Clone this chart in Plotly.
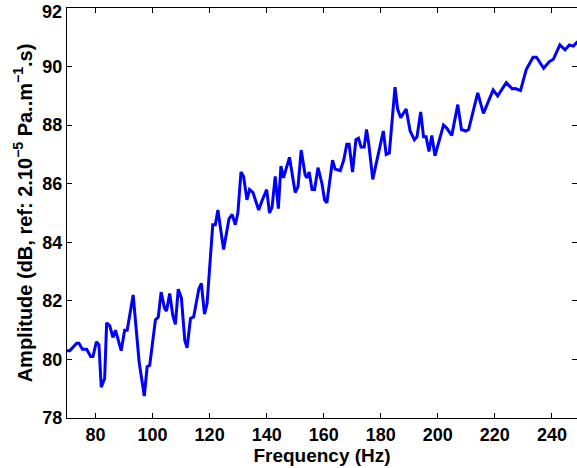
import plotly.graph_objects as go

freq = [70.0, 71.0, 73.4, 74.2, 75.4, 76.9, 78.3, 79.1, 80.3, 81.2, 82.0, 83.2, 83.9, 85.0,
        86.1, 87.0, 89.0, 90.2, 91.1, 93.2, 95.3, 97.1, 98.1, 99.0, 101.0, 102.0, 103.0,
        104.2, 104.9, 106.0, 107.1, 108.0, 109.0, 110.1, 111.3, 112.1, 113.3, 114.4, 116.2,
        117.1, 118.2, 119.1, 121.1, 122.0, 122.9, 124.9, 126.8, 127.9, 129.0, 129.9, 131.0,
        131.9, 133.1, 134.0, 135.2, 137.2, 138.3, 140.0, 141.0, 141.9, 143.0, 144.1, 145.0,
        145.9, 148.0, 150.0, 151.0, 152.1, 153.5, 154.1, 154.9, 155.9, 156.8, 158.0, 159.4,
        160.3, 161.1, 163.1, 164.0, 165.8, 167.0, 168.1, 168.9, 170.1, 171.3, 172.2, 173.1,
        174.2, 175.0, 175.8, 177.2, 179.2, 180.9, 181.9, 183.0, 185.0, 185.9, 187.0, 188.9,
        190.3, 191.8, 192.7, 194.0, 195.0, 195.9, 196.9, 197.9, 199.0, 202.0, 203.1, 204.9,
        207.0, 208.3, 209.8, 210.8, 214.0, 216.0, 219.4, 221.0, 224.0, 226.1, 227.2, 229.0,
        231.0, 233.4, 234.6, 237.1, 239.1, 240.5, 242.8, 244.6, 246.1, 247.5, 248.8, 250.0]

amplitude = [80.3, 80.3, 80.55, 80.55, 80.35, 80.35, 80.1, 80.1, 80.6, 80.5, 79.05, 79.35,
             81.25, 81.15, 80.75, 81.0, 80.3, 81.0, 81.0, 82.2, 79.9, 78.75, 79.75, 79.8,
             81.35, 81.45, 82.3, 81.75, 81.65, 82.25, 81.5, 81.2, 82.4, 82.1, 80.65, 80.4,
             81.4, 81.45, 82.4, 82.6, 81.55, 81.9, 84.6, 84.6, 85.1, 83.75, 84.8, 84.95,
             84.6, 85.0, 86.4, 86.25, 85.45, 85.8, 85.7, 85.1, 85.4, 85.8, 85.0, 85.2, 86.25,
             85.15, 86.6, 86.2, 86.9, 85.7, 85.9, 87.15, 86.3, 86.2, 86.4, 85.8, 85.8, 86.55,
             86.0, 85.45, 85.35, 86.8, 86.5, 86.45, 86.8, 87.35, 87.35, 86.4, 87.5, 87.55,
             87.25, 87.25, 87.85, 87.35, 86.15, 87.0, 87.8, 87.0, 87.05, 89.3, 88.55, 88.25,
             88.55, 87.8, 87.5, 87.6, 88.45, 87.6, 87.6, 87.1, 87.65, 86.95, 88.0, 87.9, 87.65,
             88.7, 87.85, 87.8, 87.85, 89.1, 88.4, 89.2, 89.0, 89.45, 89.24, 89.25, 89.18,
             89.9, 90.32, 90.32, 89.94, 90.17, 90.25, 90.74, 90.57, 90.74, 90.7, 90.83, 90.9]

x_ticks = [80, 100, 120, 140, 160, 180, 200, 220, 240]
y_ticks = [78, 80, 82, 84, 86, 88, 90, 92]
y_ticktext = [str(v) for v in y_ticks]

x_title = "Frequency (Hz)"
y_title = "Amplitude (dB, ref: 2.10<sup>\u22125</sup> Pa..m<sup>\u22121</sup>.s)"

fig = go.Figure()
fig.add_trace(go.Scatter(x=freq, y=amplitude, mode="lines",
                         line=dict(color="#0000FF", width=3), showlegend=False,
                         hoverinfo="skip"))

font_family = "Liberation Sans, Arial, sans-serif"
tick_font = dict(family=font_family, size=18, color="black", weight="bold")
x_title_font = dict(family=font_family, size=19, color="black", weight="bold")
y_title_font = dict(family=font_family, size=20, color="black", weight="bold")
axis_common = dict(
    showline=True, linecolor="black", linewidth=1, mirror="ticks",
    ticks="inside", ticklen=5, tickwidth=1, tickcolor="black",
    showgrid=False, zeroline=False, automargin=False,
    ticklabeloverflow="allow", tickfont=tick_font,
)

# top label is nudged down (as in the reference) so it stays inside the figure
shown_text = y_ticktext[:-1] + [""]
fig.add_annotation(x=0, xref="paper", y=y_ticks[-1], yref="y", text=y_ticktext[-1],
                   showarrow=False, xanchor="right", yanchor="middle",
                   xshift=-3, yshift=-4, font=tick_font)

fig.update_layout(
    width=577, height=468,
    margin=dict(l=67, r=0, t=8, b=50),
    paper_bgcolor="white", plot_bgcolor="white",
    font=dict(family=font_family, color="black"),
    xaxis=dict(range=[70, 248.8], tickvals=x_ticks,
               title=dict(text=x_title, standoff=2, font=x_title_font),
               **axis_common),
    yaxis=dict(range=[78, 92], tickvals=y_ticks, ticktext=shown_text,
               title=dict(text=y_title, standoff=4, font=y_title_font),
               **axis_common),
)

fig.write_html("out.html", config={"displayModeBar": False},
               post_script="document.body.style.margin='0';document.body.style.padding='0';")
